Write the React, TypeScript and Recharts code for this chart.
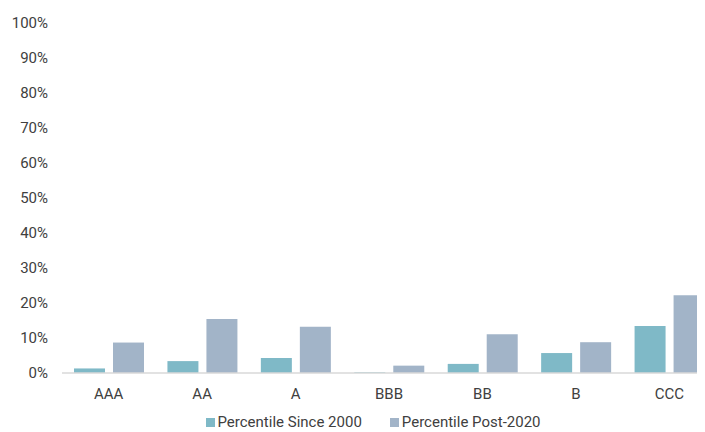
import React from "react";
import { BarChart, Bar, XAxis, YAxis, Legend } from "recharts";

const categories = ["AAA", "AA", "A", "BBB", "BB", "B", "CCC"];
const sinceValues = [1.3, 3.4, 4.3, 0.2, 2.6, 5.7, 13.4];
const postValues = [8.7, 15.4, 13.2, 2.1, 11.1, 8.8, 22.2];
const yTicks = [0, 10, 20, 30, 40, 50, 60, 70, 80, 90, 100];
const seriesNames = ["Percentile Since 2000", "Percentile Post-2020"];
const colors = ["#7fb9c7", "#a2b4c8"];

const data = categories.map((c, i) => ({
  name: c,
  since: sinceValues[i],
  post: postValues[i],
}));

const FONT = "Roboto, 'Noto Sans', sans-serif";

const LegendContent = () => (
  <div
    style={{
      display: "flex",
      justifyContent: "center",
      alignItems: "center",
      fontFamily: FONT,
      fontSize: 15,
      lineHeight: "17px",
      color: "#404040",
      paddingTop: 8,
      paddingLeft: 22,
    }}
  >
    {seriesNames.map((n, i) => (
      <div
        key={n}
        style={{ display: "flex", alignItems: "center", marginRight: i === 0 ? 28 : 0 }}
      >
        <span
          style={{
            display: "inline-block",
            width: 9,
            height: 9,
            background: colors[i],
            marginRight: 3,
          }}
        />
        <span>{n}</span>
      </div>
    ))}
  </div>
);

export default function App() {
  return (
    <div style={{ width: 697, height: 424, overflow: "hidden" }}>
      <BarChart
        width={712}
        height={424}
        data={data}
        margin={{ top: 15, right: 4, bottom: 0, left: 0 }}
        barCategoryGap={12}
        barGap={8}
      >
        <XAxis
          dataKey="name"
          axisLine={{ stroke: "#d9d9d9", strokeWidth: 1.5 }}
          tickLine={false}
          tickMargin={9}
          tick={{ fill: "#404040", fontSize: 15, fontFamily: FONT }}
          height={33}
        />
        <YAxis
          domain={[0, 100]}
          ticks={yTicks}
          interval={0}
          tickFormatter={(v: number) => `${v}%`}
          axisLine={false}
          tickLine={false}
          tickMargin={8}
          width={54}
          tick={{ fill: "#404040", fontSize: 15, fontFamily: FONT }}
        />
        <Legend verticalAlign="bottom" content={<LegendContent />} height={26} />
        <Bar dataKey="since" name={seriesNames[0]} fill={colors[0]} isAnimationActive={false} />
        <Bar dataKey="post" name={seriesNames[1]} fill={colors[1]} isAnimationActive={false} />
      </BarChart>
    </div>
  );
}
